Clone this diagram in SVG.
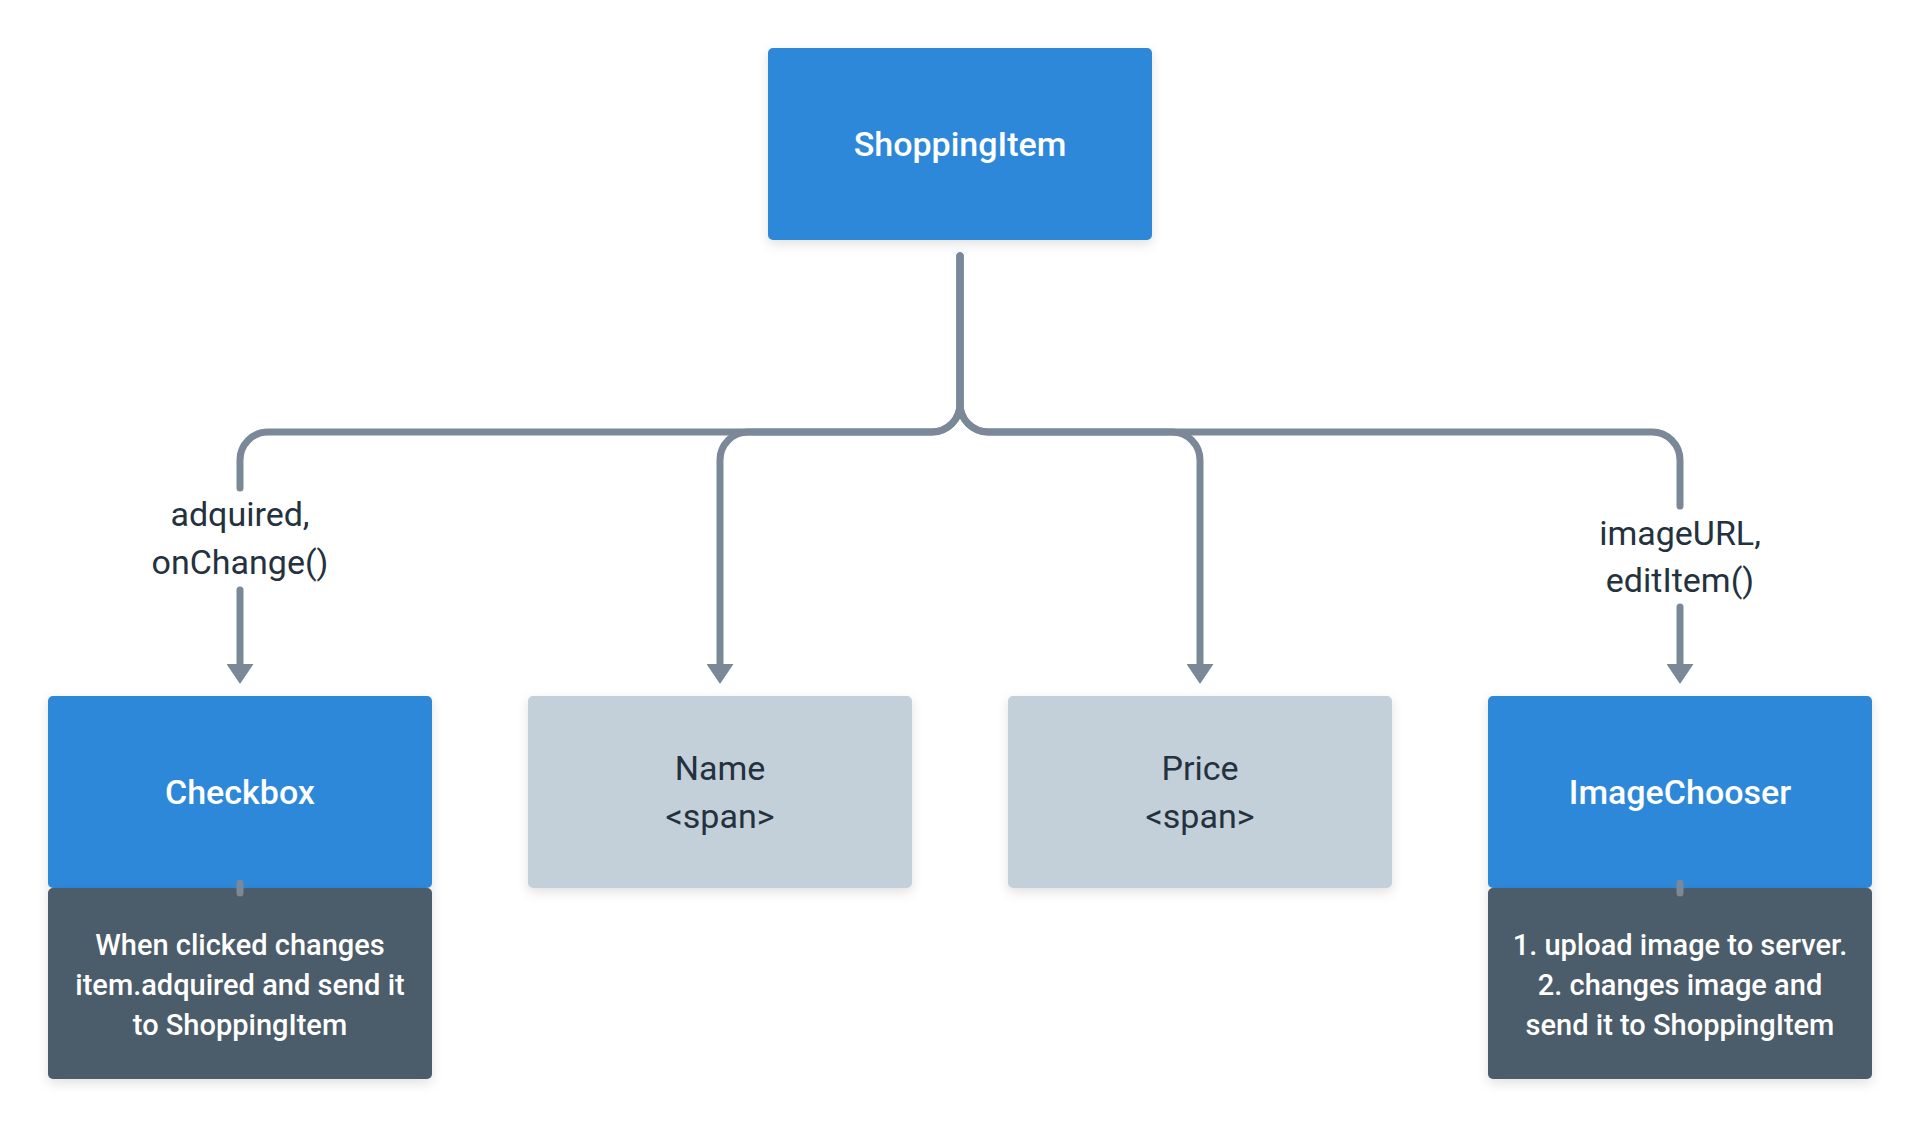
<svg xmlns="http://www.w3.org/2000/svg" width="1920" height="1128" viewBox="0 0 1920 1128">
<style>
.blue{fill:#2d88d9}
.grey{fill:#c3cfd9}
.dark{fill:#4b5b6b}
.wt{fill:#ffffff;font-family:Roboto,"Liberation Sans",sans-serif;font-weight:500;text-anchor:middle}
.dt{fill:#24313e;font-family:Roboto,"Liberation Sans",sans-serif;font-weight:400;text-anchor:middle}
.conn{fill:none;stroke:#7a8898;stroke-width:7;stroke-linecap:round}
</style>
<defs>
<filter id="sh" x="-10%" y="-10%" width="120%" height="130%">
<feDropShadow dx="0" dy="4" stdDeviation="6" flood-color="#000" flood-opacity="0.12"/>
</filter>
<marker id="ah" markerUnits="userSpaceOnUse" markerWidth="20" markerHeight="27" viewBox="0 0 20 27" refX="0" refY="13.5" orient="auto">
<path d="M0,0 L20,13.5 L0,27 z" fill="#7a8898"/>
</marker>
</defs>
<rect width="1920" height="1128" fill="#ffffff"/>
<g id="connectors">
<path class="conn" d="M960,256 L960,404 A28,28 0 0 1 932,432 L268,432 A28,28 0 0 0 240,460 L240,488"/>
<path class="conn" d="M240,590 L240,664" marker-end="url(#ah)"/>
<path class="conn" d="M960,256 L960,404 A28,28 0 0 1 932,432 L748,432 A28,28 0 0 0 720,460 L720,664" marker-end="url(#ah)"/>
<path class="conn" d="M960,256 L960,404 A28,28 0 0 0 988,432 L1172,432 A28,28 0 0 1 1200,460 L1200,664" marker-end="url(#ah)"/>
<path class="conn" d="M960,256 L960,404 A28,28 0 0 0 988,432 L1652,432 A28,28 0 0 1 1680,460 L1680,506"/>
<path class="conn" d="M1680,607 L1680,664" marker-end="url(#ah)"/>
<text class="dt" font-size="34" x="240" y="526">adquired,</text>
<text class="dt" font-size="34" x="240" y="574">onChange()</text>
<text class="dt" font-size="34" x="1680" y="545">imageURL,</text>
<text class="dt" font-size="34" x="1680" y="592">editItem()</text>
</g>
<g id="shoppingitem">
<rect class="blue" x="768" y="48" width="384" height="192" rx="5" filter="url(#sh)"/>
<text class="wt" font-size="34" x="960" y="156">ShoppingItem</text>
</g>
<g id="checkbox">
<rect class="blue" x="48" y="696" width="384" height="192" rx="5" filter="url(#sh)"/>
<text class="wt" font-size="34" x="240" y="804">Checkbox</text>
</g>
<g id="checkbox-note">
<rect class="dark" x="48" y="888" width="384" height="191" rx="5" filter="url(#sh)"/>
<text class="wt" font-size="29" x="240" y="955">When clicked changes</text>
<text class="wt" font-size="29" x="240" y="995">item.adquired and send it</text>
<text class="wt" font-size="29" x="240" y="1035">to ShoppingItem</text>
</g>
<g id="name">
<rect class="grey" x="528" y="696" width="384" height="192" rx="5" filter="url(#sh)"/>
<text class="dt" font-size="34" x="720" y="780">Name</text>
<text class="dt" font-size="34" x="720" y="828">&lt;span&gt;</text>
</g>
<g id="price">
<rect class="grey" x="1008" y="696" width="384" height="192" rx="5" filter="url(#sh)"/>
<text class="dt" font-size="34" x="1200" y="780">Price</text>
<text class="dt" font-size="34" x="1200" y="828">&lt;span&gt;</text>
</g>
<g id="imagechooser">
<rect class="blue" x="1488" y="696" width="384" height="192" rx="5" filter="url(#sh)"/>
<text class="wt" font-size="34" x="1680" y="804">ImageChooser</text>
</g>
<g id="imagechooser-note">
<rect class="dark" x="1488" y="888" width="384" height="191" rx="5" filter="url(#sh)"/>
<text class="wt" font-size="29" x="1680" y="955">1. upload image to server.</text>
<text class="wt" font-size="29" x="1680" y="995">2. changes image and</text>
<text class="wt" font-size="29" x="1680" y="1035">send it to ShoppingItem</text>
</g>
<g id="note-links">
<path class="conn" d="M240,883 L240,893"/>
<path class="conn" d="M1680,883 L1680,893"/>
</g>
</svg>
